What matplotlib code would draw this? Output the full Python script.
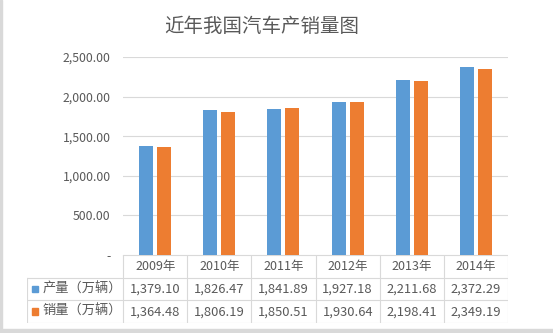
import matplotlib
matplotlib.use("Agg")
import matplotlib.pyplot as plt
from matplotlib.patches import Rectangle
from matplotlib.lines import Line2D

plt.rcParams['font.family'] = ['Noto Sans CJK SC', 'DejaVu Sans']

title = "近年我国汽车产销量图"
years = ["2009年", "2010年", "2011年", "2012年", "2013年", "2014年"]
series_names = ["产量（万辆）", "销量（万辆）"]
production = [1379.10, 1826.47, 1841.89, 1927.18, 2211.68, 2372.29]
sales = [1364.48, 1806.19, 1850.51, 1930.64, 2198.41, 2349.19]
yticks = [0, 500, 1000, 1500, 2000, 2500]
colors = ["#5B9BD5", "#ED7D31"]
txt = "#595959"
grid = "#D9D9D9"

W, H = 553, 333
fig = plt.figure(figsize=(W/100, H/100), dpi=100)

def px_axes(x0, y0, x1, y1):
    return fig.add_axes([x0/W, 1 - y1/H, (x1-x0)/W, (y1-y0)/H])

# figure border (gray left and bottom edges)
fig.patches.append(Rectangle((0, 0), 2/W, 1, transform=fig.transFigure, color="#D9D9D9", zorder=0))
fig.patches.append(Rectangle((0, 0), 1, 4/H, transform=fig.transFigure, color="#D9D9D9", zorder=0))

# main plot
ax = px_axes(123, 57, 508, 255)
n = len(years)
x = list(range(n))
bw = 0.22
off = 0.14
ax.bar([i - off for i in x], production, bw, color=colors[0], zorder=3)
ax.bar([i + off for i in x], sales, bw, color=colors[1], zorder=3)
ax.set_xlim(-0.5, n - 0.5)
ax.set_ylim(0, 2500)
ax.set_yticks(yticks)
ax.set_yticklabels(["-" if v == 0 else f"{v:,.2f}" for v in yticks])
ax.tick_params(axis='y', length=0, pad=9, labelsize=8.8, labelcolor=txt)
ax.tick_params(axis='x', length=0, labelbottom=False)
for s in ax.spines.values():
    s.set_visible(False)
ax.yaxis.grid(True, color=grid, linewidth=0.8, zorder=0)
ax.set_axisbelow(True)

fig.text(262/W, 1 - 26/H, title, ha='center', va='center', fontsize=14,
         color=txt, fontweight='light')

# data table
tax = px_axes(27, 255, 508, 323)
tax.set_xlim(-2.0, n - 0.5)
tax.set_ylim(3, 0)
tax.axis('off')
lc = "#D9D9D9"
lw = 0.8
tax.add_line(Line2D([-0.5, n - 0.5], [0, 0], color=lc, lw=lw))
for yy in [1, 2, 3]:
    tax.add_line(Line2D([-2.0, n - 0.5], [yy, yy], color=lc, lw=lw))
for i in range(n + 1):
    tax.add_line(Line2D([i - 0.5, i - 0.5], [0, 3], color=lc, lw=lw))
tax.add_line(Line2D([-2.0, -2.0], [1, 3], color=lc, lw=lw))

for i, yl in enumerate(years):
    tax.text(i, 0.5, yl, ha='center', va='center', fontsize=9, color=txt)
rows = [production, sales]
for r, vals in enumerate(rows):
    yy = r + 1.5
    tax.add_patch(Rectangle((-1.92, yy - 0.14), 0.095, 0.28, color=colors[r], clip_on=False))
    tax.text(-1.76, yy, series_names[r], ha='left', va='center', fontsize=9.5, color=txt)
    for i, v in enumerate(vals):
        tax.text(i, yy, f"{v:,.2f}", ha='center', va='center', fontsize=9.3, color=txt)

fig.savefig("out.png", dpi=100)
